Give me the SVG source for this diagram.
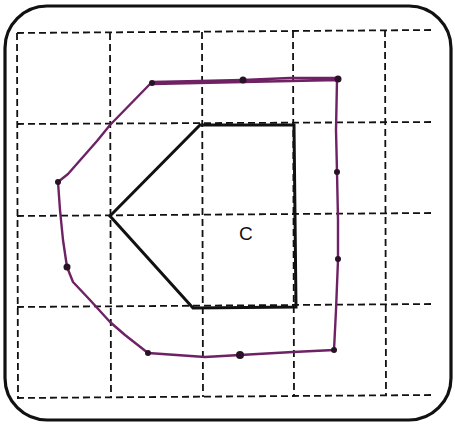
<svg xmlns="http://www.w3.org/2000/svg" width="455" height="425" viewBox="0 0 455 425">
<style>
.grid{stroke:#111;stroke-width:1.8;stroke-dasharray:7 4;fill:none}
.shape{stroke:#111;stroke-width:3;fill:none;stroke-linejoin:miter}
.trace{stroke:#6e2163;stroke-width:2.4;fill:none;stroke-linejoin:round;stroke-linecap:round}
.dot{fill:#2a1226}
.label{font-family:"Liberation Sans",Arial,sans-serif;font-size:19px;fill:#111}
</style>
<rect width="455" height="425" fill="#fff"/>
<rect id="border" x="5" y="6" width="446" height="414" rx="42" ry="42" fill="none" stroke="#111" stroke-width="3.2"/>
<g id="grid">
<line class="grid" x1="17" y1="33" x2="432" y2="30"/>
<line class="grid" x1="17" y1="124" x2="432" y2="122"/>
<line class="grid" x1="17" y1="216" x2="432" y2="213"/>
<line class="grid" x1="17" y1="307" x2="432" y2="304"/>
<line class="grid" x1="17" y1="398" x2="432" y2="395"/>
<line class="grid" x1="17" y1="33" x2="18" y2="398"/>
<line class="grid" x1="110" y1="33" x2="111" y2="398"/>
<line class="grid" x1="202" y1="32" x2="203" y2="397"/>
<line class="grid" x1="293" y1="31" x2="294" y2="396"/>
<line class="grid" x1="385" y1="30" x2="386" y2="396"/>
</g>
<g id="shape-c">
<polygon class="shape" points="200,125 294,125 296,307 193,308 110,216"/>
<text class="label" x="239" y="240">C</text>
</g>
<g id="connectors">
<path class="trace" d="M152,82 L200,81 L243,80 L290,78 L338,78 M152,84 L243,82 L338,80 M337,80 L336,130 L337,172 L338,220 L338,260 L336,310 L334,350 L293,352 L240,355 L205,357 L148,353 L125,335 L110,322 L90,300 L73,282 L67,267 L63,240 L60,210 L58,182 L68,174 L97,141 L110,125 L152,82"/>
</g>
<g id="dots">
<circle class="dot" cx="152" cy="83" r="3"/>
<circle class="dot" cx="243" cy="80" r="3.5"/>
<circle class="dot" cx="338" cy="79" r="3.5"/>
<circle class="dot" cx="337" cy="172" r="3"/>
<circle class="dot" cx="338" cy="259" r="3"/>
<circle class="dot" cx="334" cy="350" r="3"/>
<circle class="dot" cx="240" cy="355" r="4"/>
<circle class="dot" cx="148" cy="353" r="3"/>
<circle class="dot" cx="67" cy="267" r="3.5"/>
<circle class="dot" cx="58" cy="182" r="3"/>
</g>
</svg>
